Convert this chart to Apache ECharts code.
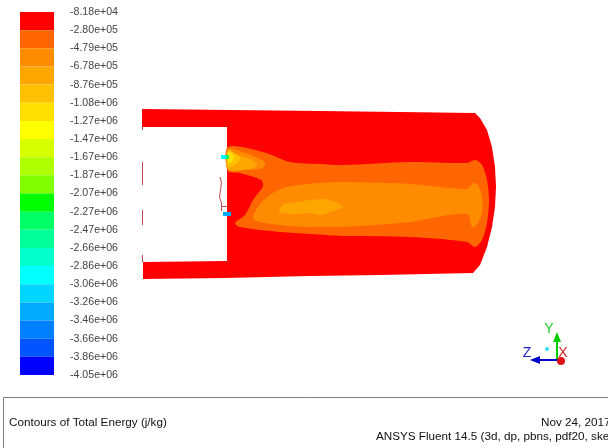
<!DOCTYPE html>
<html>
<head>
<meta charset="utf-8">
<title>Contours of Total Energy</title>
<script src="https://cdn.jsdelivr.net/npm/echarts@6/dist/echarts.min.js"></script>
<style>
html, body { margin: 0; padding: 0; background: #fff; }
#main { width: 608px; height: 448px; }
</style>
</head>
<body>
<div id="main"></div>
<script>
// colour scale, top (highest energy) to bottom
var tickLabels = ['-8.18e+04','-2.80e+05','-4.79e+05','-6.78e+05','-8.76e+05','-1.08e+06','-1.27e+06',
	'-1.47e+06','-1.67e+06','-1.87e+06','-2.07e+06','-2.27e+06','-2.47e+06','-2.66e+06','-2.86e+06',
	'-3.06e+06','-3.26e+06','-3.46e+06','-3.66e+06','-3.86e+06','-4.05e+06'];
var bandColors = ['#ff0000','#ff6600','#ff8c00','#ffa500','#ffc000','#ffe000','#ffff00',
	'#d8ff00','#b0ff00','#80ff00','#00ff00','#00ff66','#00ff99','#00ffcc','#00ffff',
	'#00d5ff','#00aaff','#0080ff','#0055ff','#0000ff'];

// contour outlines, [x, y] in the view's units
var wallOutline = [[142,109],[230,110],[320,111],[400,112],[475,113],[480,118],[487,130],[492,147],[495,167],[496,187],
	[495,207],[492,227],[487,247],[480,265],[473,273],[380,275],[310,276],[225,278],[143,279],[143,262],[227,261],[227,127],[142,127]];
var plumeOuter = [[228,147],[263,152],[290,162],[320,164],[343,165],[410,162],[467,163],[475,160],[482,165],[487,180],
	[489,200],[487,223],[482,240],[475,247],[467,242],[410,237],[343,236],[310,234],[280,232],[240,227],[235,223],
	[245,215],[253,200],[263,186],[261,180],[240,173],[228,171]];
var plumeMiddle = [[253,218],[258,207],[270,195],[287,187],[320,183],[343,182],[410,184],[467,189],[473,183],[478,185],
	[482,197],[482,213],[477,225],[472,227],[467,214],[410,222],[360,226],[310,227],[280,225],[260,222]];
var plumeCore = [[279,212],[283,205],[297,202],[320,199],[330,200],[343,207],[330,212],[322,215],[310,213],[297,214]];
var jetOuter = [[228,149],[245,153],[258,158],[265,163],[263,168],[248,170],[228,170]];
var jetInner = [[228,152],[238,155],[252,160],[257,165],[250,169],[228,169]];
var jetWarm = [[228,150],[234,153],[240,158],[236,164],[228,167]];
var jetHot = [[228,152],[232,154],[234,158],[231,162],[228,163]];
var injectorTop = [[221,155],[226,155],[226,159],[221,159]];
var injectorTopEnd = [[226,155],[229,155],[229,159],[226,159]];
var injectorLow = [[223,212],[231,212],[231,216],[223,216]];

var contourRegions = [
	{ band: 0, points: wallOutline, smooth: 0 },
	{ band: 1, points: plumeOuter, smooth: 0.3 },
	{ band: 2, points: plumeMiddle, smooth: 0.3 },
	{ band: 3, points: plumeCore, smooth: 0.3 },
	{ band: 2, points: jetOuter, smooth: 0.3 },
	{ band: 3, points: jetInner, smooth: 0.3 },
	{ band: 4, points: jetWarm, smooth: 0.3 },
	{ band: 5, points: jetHot, smooth: 0.3 },
	{ band: 14, points: injectorTop, smooth: 0 },
	{ band: 11, points: injectorTopEnd, smooth: 0 },
	{ band: 16, points: injectorLow, smooth: 0 }
];

// thin wall lines
var wallLines = [
	[[142.5,127],[142.5,130]],
	[[142.5,162],[142.5,185]],
	[[142.5,210],[142.5,225]],
	[[142.5,255],[142.5,262]],
	[[220,177],[221.5,183],[219.5,197],[221.5,203],[221.5,211]],
	[[221.5,206.5],[227,206.5]]
];

// axis triad
var triadArrows = [
	{ color: '#00cc00', from: [557,360], to: [557,332] },
	{ color: '#0000cc', from: [558,360], to: [530,360] }
];
var triadDots = [
	{ color: '#e01010', at: [561,361], r: 4 },
	{ color: '#30e0f0', at: [547,349], r: 2 }
];
var triadLabels = [
	{ text: 'Y', color: '#22cc22', at: [549,329] },
	{ text: 'X', color: '#cc2222', at: [563,353] },
	{ text: 'Z', color: '#2222cc', at: [527,353] }
];

var bandIndex = bandColors.map(function (c, i) { return [i]; });

function drawBand(params, api) {
	var i = api.value(0);
	var a = api.coord([0, i]);
	var b = api.coord([1, i + 1]);
	return {
		type: 'rect',
		shape: { x: a[0], y: a[1], width: b[0] - a[0], height: b[1] - a[1] },
		style: { fill: bandColors[i] }
	};
}

function drawRegion(params, api) {
	var r = contourRegions[params.dataIndex];
	return {
		type: 'polygon',
		shape: { points: r.points.map(function (p) { return api.coord(p); }), smooth: r.smooth },
		style: { fill: bandColors[r.band] }
	};
}

function drawWallLine(params, api) {
	return {
		type: 'polyline',
		shape: { points: wallLines[params.dataIndex].map(function (p) { return api.coord(p); }) },
		style: { stroke: '#c24a50', lineWidth: 1, fill: 'none' }
	};
}

function drawTriad(params, api) {
	var kids = [];
	triadArrows.forEach(function (t) {
		var a = api.coord(t.from), b = api.coord(t.to);
		var len = Math.sqrt((b[0]-a[0])*(b[0]-a[0]) + (b[1]-a[1])*(b[1]-a[1]));
		var ux = (b[0]-a[0])/len, uy = (b[1]-a[1])/len;
		kids.push({ type: 'line', shape: { x1: a[0], y1: a[1], x2: b[0]-ux*6, y2: b[1]-uy*6 },
			style: { stroke: t.color, lineWidth: 2 } });
		kids.push({ type: 'polygon', shape: { points: [
			b, [b[0]-ux*10-uy*4, b[1]-uy*10+ux*4], [b[0]-ux*10+uy*4, b[1]-uy*10-ux*4]
		] }, style: { fill: t.color } });
	});
	triadDots.forEach(function (d) {
		var c = api.coord(d.at);
		kids.push({ type: 'circle', shape: { cx: c[0], cy: c[1], r: d.r }, style: { fill: d.color } });
	});
	triadLabels.forEach(function (l) {
		var c = api.coord(l.at);
		kids.push({ type: 'text', x: c[0], y: c[1], style: { text: l.text, fill: l.color,
			font: '14px "Liberation Sans"', align: 'center', verticalAlign: 'middle' } });
	});
	return { type: 'group', children: kids };
}

var captionStyle = { color: '#111', fontFamily: 'Liberation Sans', fontSize: 11.7, fontWeight: 'normal' };

var option = {
	animation: false,
	backgroundColor: '#fff',
	title: [
		{ text: 'Contours of Total Energy (j/kg)', left: 9, top: 417, padding: 0, textStyle: captionStyle },
		{ text: 'Nov 24, 2017', left: 541, top: 417, padding: 0, textStyle: captionStyle },
		{ text: 'ANSYS Fluent 14.5 (3d, dp, pbns, pdf20, ske)', left: 376, top: 431, padding: 0, textStyle: captionStyle }
	],
	grid: [
		{ left: 0, top: 0, width: 608, height: 448 },
		{ left: 20, top: 12, width: 34, height: 363 }
	],
	xAxis: [
		{ gridIndex: 0, type: 'value', min: 0, max: 608, show: false },
		{ gridIndex: 1, type: 'value', min: 0, max: 1, show: false }
	],
	yAxis: [
		{ gridIndex: 0, type: 'value', min: 0, max: 448, inverse: true, show: false },
		{
			gridIndex: 1, type: 'value', min: 0, max: 20, interval: 1, inverse: true, position: 'right',
			axisLine: { show: false }, axisTick: { show: false }, splitLine: { show: false },
			axisLabel: {
				margin: 16, color: '#444', fontFamily: 'Liberation Sans', fontSize: 10.6, hideOverlap: false,
				showMinLabel: true, showMaxLabel: true,
				formatter: function (v) { return tickLabels[v]; }
			}
		}
	],
	series: [
		{
			type: 'custom', xAxisIndex: 1, yAxisIndex: 1, clip: false,
			encode: { y: 0 }, data: bandIndex, renderItem: drawBand
		},
		{
			type: 'custom', xAxisIndex: 0, yAxisIndex: 0,
			data: contourRegions.map(function (r) { return r.points[0]; }), renderItem: drawRegion
		},
		{
			type: 'custom', xAxisIndex: 0, yAxisIndex: 0,
			data: wallLines.map(function (l) { return l[0]; }), renderItem: drawWallLine
		},
		{
			type: 'custom', xAxisIndex: 0, yAxisIndex: 0,
			data: [triadDots[0].at], renderItem: drawTriad
		},
		{
			// frame round the caption
			type: 'line', xAxisIndex: 0, yAxisIndex: 0, symbol: 'none', silent: true,
			lineStyle: { color: '#808080', width: 1 },
			data: [[3.5,448],[3.5,397.5],[608,397.5]]
		}
	]
};

var myChart = echarts.init(document.getElementById('main'));
myChart.setOption(option);
</script>
</body>
</html>
